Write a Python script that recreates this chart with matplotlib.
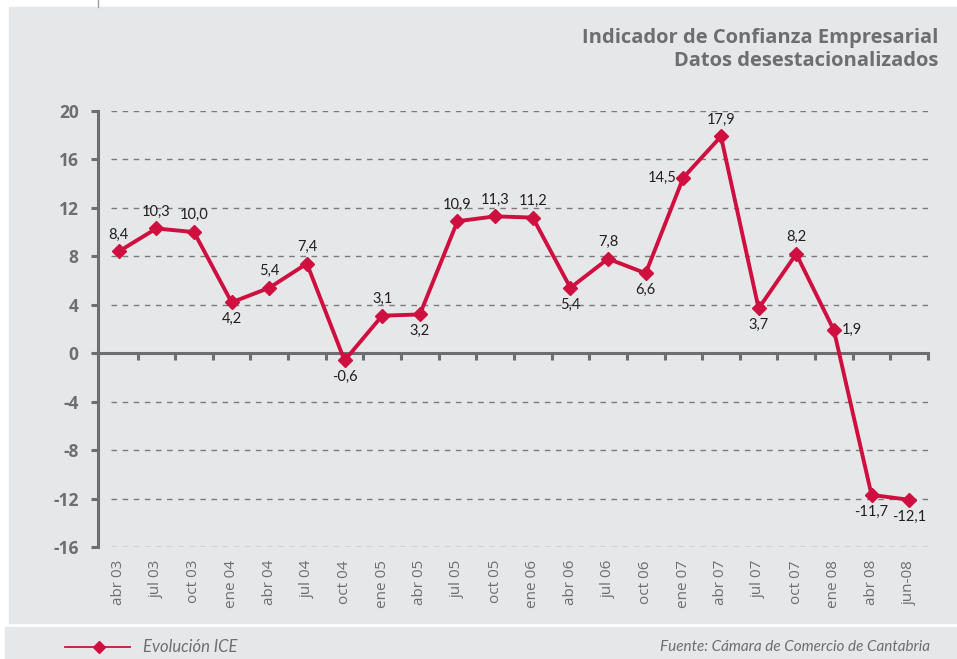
import matplotlib.pyplot as plt
from matplotlib.patches import Rectangle
from matplotlib.lines import Line2D
import matplotlib.transforms as mtransforms

# data
periodos = ['abr 03', 'jul 03', 'oct 03', 'ene 04', 'abr 04', 'jul 04', 'oct 04',
            'ene 05', 'abr 05', 'jul 05', 'oct 05', 'ene 06', 'abr 06', 'jul 06',
            'oct 06', 'ene 07', 'abr 07', 'jul 07', 'oct 07', 'ene 08', 'abr 08', 'jun-08']
ice = [8.4, 10.3, 10.0, 4.2, 5.4, 7.4, -0.6, 3.1, 3.2, 10.9, 11.3, 11.2, 5.4, 7.8,
       6.6, 14.5, 17.9, 3.7, 8.2, 1.9, -11.7, -12.1]
y_ticks = [-16, -12, -8, -4, 0, 4, 8, 12, 16, 20]

# where each value label sits relative to its point
lado = ['up', 'up', 'up', 'down', 'up', 'up', 'down', 'up', 'down', 'up', 'up', 'up',
        'down', 'up', 'down', 'left', 'up', 'down', 'up', 'right', 'down', 'down']

ROJO = '#cf0f3f'
GRIS = '#6d6e70'
FONDO = '#e6e7e9'

fig = plt.figure(figsize=(9.57, 6.59), dpi=100)
fig.patch.set_facecolor('white')
W, H = 957, 659
fig.patches.append(Rectangle((9 / W, 1 - 623 / H), 1, (623 - 7) / H,
                             transform=fig.transFigure, color=FONDO, zorder=-5))
fig.patches.append(Rectangle((5 / W, 0), 1, (659 - 627) / H,
                             transform=fig.transFigure, color=FONDO, zorder=-5))
fig.lines.append(Line2D([98 / W, 98 / W], [1, 1 - 7 / H], transform=fig.transFigure,
                        color='#a0a0a0', lw=1))

ax = fig.add_axes([98 / W, 1 - 547 / H, (928 - 98) / W, (547 - 111) / H])
ax.set_facecolor('none')
x = list(range(len(periodos)))
ax.set_xlim(-0.55, len(periodos) - 0.5)
ax.set_ylim(-16, 20)

for v in y_ticks:
    if v != 0:
        ax.plot([-0.2, len(periodos) - 0.5], [v, v], ls=(0, (4, 4)), color='#7a7a7a',
                lw=1, zorder=1)

for s in ['top', 'right']:
    ax.spines[s].set_visible(False)
ax.spines['left'].set_color(GRIS)
ax.spines['left'].set_linewidth(2.2)
ax.spines['bottom'].set_position(('data', 0))
ax.spines['bottom'].set_color(GRIS)
ax.spines['bottom'].set_linewidth(2.2)

ax.set_yticks(y_ticks)
ax.set_yticklabels([str(v) for v in y_ticks], fontsize=12.5, fontweight='bold',
                   color=GRIS, family='Open Sans')
ax.tick_params(axis='y', direction='out', length=5, width=2.2, color=GRIS, pad=9)

ax.set_xticks([i + 0.5 for i in x])
ax.set_xticklabels([])
ax.tick_params(axis='x', direction='out', length=5, width=2.2, color=GRIS)

trans = mtransforms.blended_transform_factory(ax.transData, ax.transAxes)
for i, p in enumerate(periodos):
    ax.text(i, -0.03, p, transform=trans, rotation=90, ha='center', va='top',
            fontsize=11, color=GRIS, family='Open Sans')

ax.plot(x, ice, color=ROJO, lw=2.8, marker='D', markersize=7, zorder=3,
        clip_on=False)

offs = {'up': (0, 7, 'center', 'bottom'), 'down': (0, -7, 'center', 'top'),
        'left': (-5, 0, 'right', 'center'), 'right': (6, 0, 'left', 'center')}
for i, v in enumerate(ice):
    dx, dy, ha, va = offs[lado[i]]
    ax.annotate(f'{v:.1f}'.replace('.', ','), (i, v), xytext=(dx, dy),
                textcoords='offset points', ha=ha, va=va, fontsize=10.5,
                color='#231f20', family='Lato')

fig.text(938 / W, 1 - 38 / H, 'Indicador de Confianza Empresarial', ha='right',
         va='center', fontsize=14.5, fontweight='bold', color=GRIS, family='Open Sans')
fig.text(938 / W, 1 - 61 / H, 'Datos desestacionalizados', ha='right',
         va='center', fontsize=14.5, fontweight='bold', color=GRIS, family='Open Sans')

# legend and source
fig.lines.append(Line2D([65 / W, 130 / W], [1 - 647 / H] * 2, transform=fig.transFigure,
                        color=ROJO, lw=1.3))
fig.lines.append(Line2D([99 / W], [1 - 647 / H], transform=fig.transFigure,
                        color=ROJO, marker='D', markersize=6, lw=0))
fig.text(143 / W, 1 - 647 / H, 'Evolución ICE', ha='left', va='center', fontsize=12,
         style='italic', color=GRIS, family='Lato')
fig.text(930 / W, 1 - 647 / H, 'Fuente: Cámara de Comercio de Cantabria', ha='right',
         va='center', fontsize=11, style='italic', color=GRIS, family='Lato')

fig.savefig('out.png', dpi=100)
